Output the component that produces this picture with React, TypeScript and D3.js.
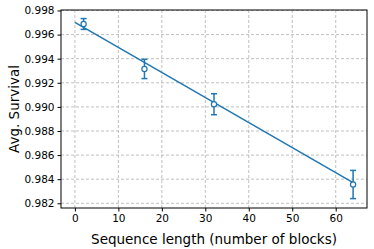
import React, { useEffect, useRef } from 'react';
import * as d3 from 'd3';

// Measured points (sequence length vs average survival)
const seqLengths = [2, 16, 32, 64];
const avgSurvival = [0.99688, 0.99315, 0.99022, 0.98356];
const survivalErr = [0.00045, 0.0008, 0.00087, 0.00117];

// Fitted decay line endpoints
const fitX = [0, 64];
const fitY = [0.99702, 0.98372];

const xTicks = [0, 10, 20, 30, 40, 50, 60];
const yTicks = [0.982, 0.984, 0.986, 0.988, 0.99, 0.992, 0.994, 0.996, 0.998];

const BLUE = '#1f77b4';
const FONT = 'DejaVu Sans, sans-serif';

export default function App() {
  const svgRef = useRef<SVGSVGElement>(null);

  useEffect(() => {
    if (!svgRef.current) return;
    const width = 374;
    const height = 249;
    const margin = { top: 10, right: 7, bottom: 41, left: 61 };
    const innerWidth = width - margin.left - margin.right;
    const innerHeight = height - margin.top - margin.bottom;

    d3.select(svgRef.current).selectAll('*').remove();
    const svg = d3.select(svgRef.current).attr('width', width).attr('height', height);
    const g = svg.append('g').attr('transform', `translate(${margin.left},${margin.top})`);

    const xScale = d3.scaleLinear().domain([-3.2, 67.2]).range([0, innerWidth]);
    const yScale = d3.scaleLinear().domain([0.98161, 0.99804]).range([innerHeight, 0]);

    // Grid
    g.append('g')
      .selectAll('line')
      .data(xTicks)
      .enter()
      .append('line')
      .attr('x1', d => xScale(d))
      .attr('x2', d => xScale(d))
      .attr('y1', 0)
      .attr('y2', innerHeight)
      .attr('stroke', '#b0b0b0')
      .attr('stroke-width', 0.8)
      .attr('stroke-dasharray', '3,2');

    g.append('g')
      .selectAll('line')
      .data(yTicks)
      .enter()
      .append('line')
      .attr('x1', 0)
      .attr('x2', innerWidth)
      .attr('y1', d => yScale(d))
      .attr('y2', d => yScale(d))
      .attr('stroke', '#b0b0b0')
      .attr('stroke-width', 0.8)
      .attr('stroke-dasharray', '3,2');

    // Axes
    const xAxis = d3.axisBottom(xScale).tickValues(xTicks).tickSize(3.5).tickPadding(3);
    const yAxis = d3.axisLeft(yScale).tickValues(yTicks).tickSize(3.5).tickPadding(3)
      .tickFormat(d3.format('.3f'));

    const xg = g.append('g').attr('transform', `translate(0,${innerHeight})`).call(xAxis);
    const yg = g.append('g').call(yAxis);
    [xg, yg].forEach(ax => {
      ax.select('.domain').remove();
      ax.selectAll('line').attr('stroke', '#000').attr('stroke-width', 1);
      ax.selectAll('text')
        .style('font-size', '10.5px')
        .style('font-family', FONT)
        .style('fill', '#000');
    });

    // Frame
    g.append('rect')
      .attr('width', innerWidth)
      .attr('height', innerHeight)
      .attr('fill', 'none')
      .attr('stroke', '#000')
      .attr('stroke-width', 1);

    // Fit line
    const line = d3.line<number>()
      .x((_, i) => xScale(fitX[i]))
      .y(d => yScale(d));
    g.append('path')
      .datum(fitY)
      .attr('d', line)
      .attr('fill', 'none')
      .attr('stroke', BLUE)
      .attr('stroke-width', 1.5);

    // Error bars
    const pts = seqLengths.map((x, i) => ({ x, y: avgSurvival[i], e: survivalErr[i] }));
    const eb = g.append('g').selectAll('g').data(pts).enter().append('g');
    eb.append('line')
      .attr('x1', d => xScale(d.x))
      .attr('x2', d => xScale(d.x))
      .attr('y1', d => yScale(d.y - d.e))
      .attr('y2', d => yScale(d.y + d.e))
      .attr('stroke', BLUE)
      .attr('stroke-width', 1.5);
    [-1, 1].forEach(s => {
      eb.append('line')
        .attr('x1', d => xScale(d.x) - 3)
        .attr('x2', d => xScale(d.x) + 3)
        .attr('y1', d => yScale(d.y + s * d.e))
        .attr('y2', d => yScale(d.y + s * d.e))
        .attr('stroke', BLUE)
        .attr('stroke-width', 1.5);
    });
    eb.append('circle')
      .attr('cx', d => xScale(d.x))
      .attr('cy', d => yScale(d.y))
      .attr('r', 2.6)
      .attr('fill', '#fff')
      .attr('stroke', BLUE)
      .attr('stroke-width', 1.2);

    // Axis labels
    g.append('text')
      .attr('text-anchor', 'middle')
      .attr('x', innerWidth / 2)
      .attr('y', innerHeight + 36)
      .style('font-size', '13.5px')
      .style('font-family', FONT)
      .style('fill', '#000')
      .text('Sequence length (number of blocks)');

    g.append('text')
      .attr('text-anchor', 'middle')
      .attr('transform', 'rotate(-90)')
      .attr('x', -innerHeight / 2)
      .attr('y', -42)
      .style('font-size', '13.5px')
      .style('font-family', FONT)
      .style('fill', '#000')
      .text('Avg. Survival');
  }, []);

  return (
    <div style={{ position: 'absolute', left: 0, top: 0 }}>
      <svg ref={svgRef} style={{ display: 'block' }} />
    </div>
  );
}
